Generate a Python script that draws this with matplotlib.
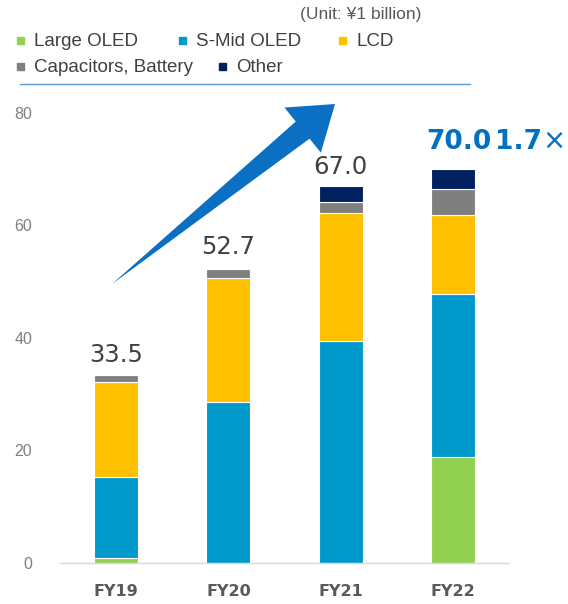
import matplotlib
matplotlib.use("Agg")
import matplotlib.pyplot as plt
import numpy as np
from matplotlib.patches import Polygon

categories = ["FY19", "FY20", "FY21", "FY22"]
series_names = ["Large OLED", "S-Mid OLED", "LCD", "Capacitors, Battery", "Other"]
large_oled = [0.9, 0.0, 0.0, 18.8]
smid_oled = [14.4, 28.6, 39.5, 29.0]
lcd = [16.9, 22.1, 22.7, 14.1]
capacitors = [1.2, 1.5, 1.9, 4.5]
other = [0.0, 0.0, 2.9, 3.6]
totals = [33.5, 52.7, 67.0, 70.0]
total_labels = ["33.5", "52.7", "67.0", "70.0"]
yticks = [0, 20, 40, 60, 80]
colors = ["#92d050", "#0099cc", "#ffc000", "#7f7f7f", "#002060"]

W, H = 568, 604
fig = plt.figure(figsize=(W / 100, H / 100), dpi=100)
plt.rcParams['font.family'] = ['Liberation Sans', 'DejaVu Sans']

def fx(px):
    return px / W

def fy(py):
    return 1 - py / H

ax = fig.add_axes([fx(60), fy(562.7), (509 - 60) / W, (562.7 - 113) / H])
x = np.arange(len(categories))
bottom = np.zeros(len(categories))
for vals, col in zip([large_oled, smid_oled, lcd, capacitors, other], colors):
    v = np.array(vals)
    ax.bar(x, v, width=0.39, bottom=bottom, color=col, edgecolor="white", linewidth=0.8)
    bottom += v

ax.set_xlim(-0.5, 3.5)
ax.set_ylim(0, 80)
ax.set_yticks(yticks)
ax.set_yticklabels([str(t) for t in yticks], color="#7f7f7f", fontsize=11.5, family="Liberation Sans")
ax.set_xticks(x)
ax.set_xticklabels(categories, fontsize=11.5, fontweight="bold", color="#595959", family="DejaVu Sans")
ax.tick_params(axis="both", length=0)
ax.tick_params(axis="y", pad=20)
ax.tick_params(axis="x", pad=15)
for s in ["top", "right", "left"]:
    ax.spines[s].set_visible(False)
ax.spines["bottom"].set_color("#d9d9d9")
ax.spines["bottom"].set_linewidth(1.0)

# value labels
for i, (t, lab) in enumerate(zip(totals, total_labels)):
    if i < 3:
        ax.text(i, t + 1.3, lab, ha="center", va="bottom", fontsize=17.5, color="#404040", family="DejaVu Sans")
fig.text(fx(426), fy(149), total_labels[3], ha="left", va="baseline", fontsize=19, fontweight="bold",
         color="#0070c0", family="DejaVu Sans")
fig.text(fx(495), fy(149), "1.7", ha="left", va="baseline", fontsize=19, fontweight="bold",
         color="#0070c0", family="DejaVu Sans")
fig.text(fx(542), fy(149), "×", ha="left", va="baseline", fontsize=20,
         color="#0070c0", family="DejaVu Sans")

# unit label
fig.text(fx(300), fy(15), "(Unit: ¥1 billion)", ha="left", va="center", fontsize=12.5, color="#595959")

# legend (manual)
leg_items = [
    (20, 41, 0), (182, 41, 1), (342, 41, 2),
    (20, 67, 3), (222, 67, 4),
]
for px, py, k in leg_items:
    fig.patches.append(plt.Rectangle((fx(px - 3), fy(py + 3)), 7 / W, 7 / H, transform=fig.transFigure,
                                     color=colors[k]))
    fig.text(fx(px + 14), fy(py), series_names[k], ha="left", va="center", fontsize=13.5, color="#404040")

# blue rule
fig.add_artist(plt.Line2D([fx(20), fx(470)], [fy(84), fy(84)], transform=fig.transFigure, color="#5b9bd5", lw=1.0))

# big arrow
tail = np.array([112.0, 284.0])
tip = np.array([335.0, 104.0])
d = tip - tail
L = np.hypot(*d)
u = d / L
n = np.array([-u[1], u[0]])
base = tail + u * 245
shaft_half = 11
head_half = 29
pts = [tail, base + n * shaft_half, base + n * head_half, tip, base - n * head_half, base - n * shaft_half]
pts_fig = [(fx(p[0]), fy(p[1])) for p in pts]
fig.patches.append(Polygon(pts_fig, closed=True, transform=fig.transFigure, facecolor="#0b6fc4", edgecolor="none"))

fig.savefig("out.png", dpi=100)
